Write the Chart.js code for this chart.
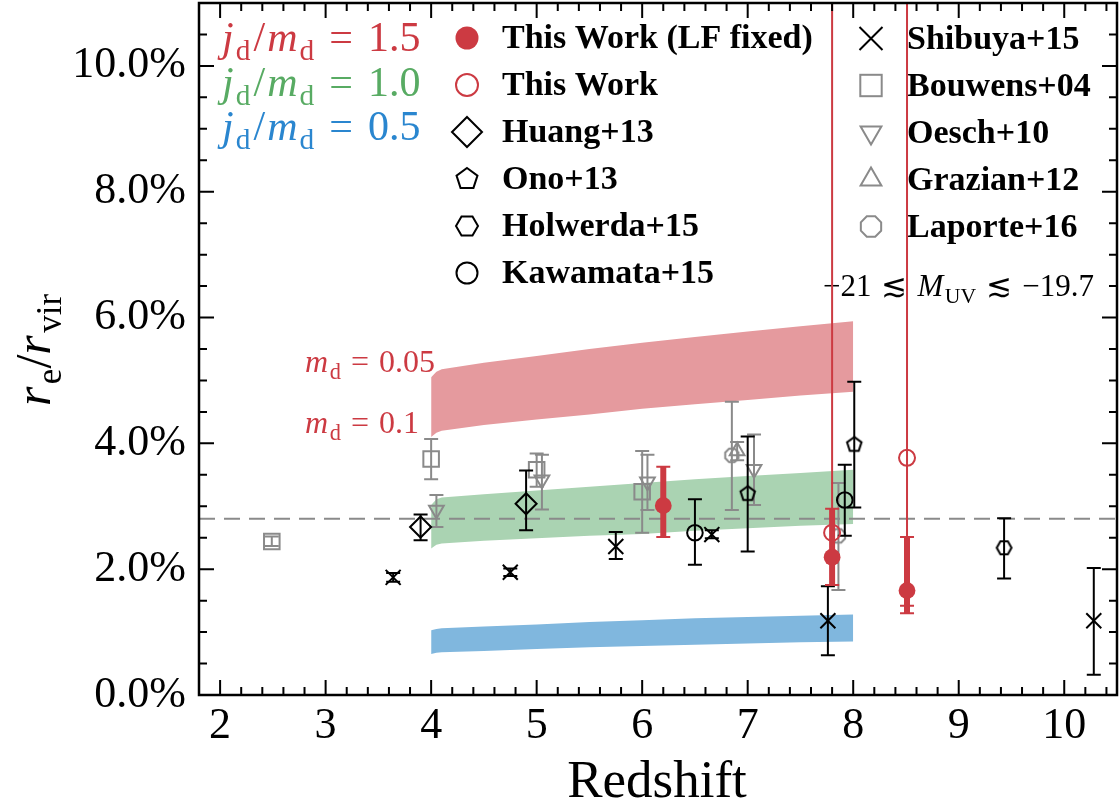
<!DOCTYPE html>
<html><head><meta charset="utf-8">
<script src="https://cdn.jsdelivr.net/npm/chart.js@4"></script>
<style>html,body{margin:0;padding:0;background:#fff;overflow:hidden}</style>
</head><body>
<canvas id="c" width="1120" height="808"></canvas>
<script>
// ---------------- DATA ----------------
const X_TICKS = [2, 3, 4, 5, 6, 7, 8, 9, 10];
const Y_TICKS = [0, 2, 4, 6, 8, 10];
const Y_TICK_LABELS = ['0.0%', '2.0%', '4.0%', '6.0%', '8.0%', '10.0%'];

// model bands (redshift, r_e/r_vir in %)
const bandZ    = [4.0, 4.05, 4.1, 4.5, 5.0, 5.5, 6.0, 6.5, 7.0, 7.5, 8.0];
const redTop   = [5.05, 5.14, 5.18, 5.28, 5.39, 5.50, 5.60, 5.69, 5.78, 5.86, 5.94];
const redBot   = [4.10, 4.17, 4.20, 4.29, 4.38, 4.46, 4.55, 4.62, 4.69, 4.76, 4.82];
const greenTop = [3.02, 3.11, 3.14, 3.19, 3.25, 3.31, 3.37, 3.43, 3.48, 3.53, 3.58];
const greenBot = [2.33, 2.39, 2.41, 2.45, 2.49, 2.53, 2.56, 2.61, 2.65, 2.69, 2.72];
const blueTop  = [1.03, 1.05, 1.06, 1.09, 1.12, 1.16, 1.19, 1.22, 1.24, 1.26, 1.28];
const blueBot  = [0.65, 0.67, 0.68, 0.70, 0.73, 0.76, 0.78, 0.80, 0.82, 0.84, 0.85];
const dashLevel = 2.8;

// observations
const lfFixedZ  = [6.2, 7.8, 8.51];
const lfFixedY  = [3.01, 2.19, 1.66];
const lfFixedLo = [2.51, 1.75, 1.30];
const lfFixedHi = [3.63, 2.96, 2.51];

const thisWorkZ  = [7.8, 8.51];
const thisWorkY  = [2.58, 3.77];
const thisWorkLo = [1.75, 1.42];
const thisWorkHi = [14, 14];

const huangZ = [3.9, 4.9];  const huangY = [2.67, 3.04];
const huangLo = [2.46, 2.62]; const huangHi = [2.87, 3.57];

const onoZ = [7.0, 8.01];   const onoY = [3.20, 3.98];
const onoLo = [2.28, 2.98]; const onoHi = [4.11, 4.98];

const holwerdaZ = [9.43];  const holwerdaY = [2.34];
const holwerdaLo = [1.85]; const holwerdaHi = [2.81];

const kawamataZ = [6.5, 7.92];  const kawamataY = [2.58, 3.10];
const kawamataLo = [2.07, 2.53]; const kawamataHi = [3.11, 3.66];

const shibuyaZ  = [3.64, 4.75, 5.75, 6.66, 7.76, 10.28];
const shibuyaY  = [1.87, 1.95, 2.36, 2.55, 1.18, 1.18];
const shibuyaLo = [1.80, 1.89, 2.16, 2.49, 0.63, 0.32];
const shibuyaHi = [1.94, 2.01, 2.59, 2.62, 1.73, 2.02];

const bouwensZ  = [2.49, 4.0, 5.0, 6.0];
const bouwensY  = [2.44, 3.75, 3.58, 3.23];
const bouwensLo = [2.37, 3.43, 3.31, 2.58];
const bouwensHi = [2.52, 4.07, 3.84, 3.88];

const oeschZ  = [4.05, 5.05, 6.05, 7.06];
const oeschY  = [2.94, 3.42, 3.39, 3.59];
const oeschLo = [2.67, 2.95, 2.94, 3.02];
const oeschHi = [3.18, 3.82, 3.82, 4.14];

const grazianZ = [6.9];  const grazianY = [3.88];
const grazianLo = [3.73]; const grazianHi = [4.02];

const laporteZ = [6.85, 7.86];  const laporteY = [3.81, 2.53];
const laporteLo = [2.94, 1.67]; const laporteHi = [4.66, 3.37];

// ---------------- STYLE ----------------
const SERIF = "'Liberation Serif', 'DejaVu Serif', serif";
const RED = '#cc3a42', GREEN = '#58ab63', BLUE = '#2a86cf', GRAY = '#8a8a8a', BLACK = '#000';
const pts = (zs, ys) => zs.map((z, i) => ({ x: z, y: ys[i] }));

function polyPath(g, n, r, rot) {
  g.beginPath();
  for (let k = 0; k < n; k++) {
    const a = rot + k * 2 * Math.PI / n;
    const px = r * Math.cos(a), py = r * Math.sin(a);
    if (k === 0) g.moveTo(px, py); else g.lineTo(px, py);
  }
  g.closePath();
}
function polyImage(n, r, rot, color, lw) {
  const s = Math.ceil(2 * (r + lw)) + 4;
  const c = document.createElement('canvas'); c.width = s; c.height = s;
  const g = c.getContext('2d'); g.translate(s / 2, s / 2);
  polyPath(g, n, r, rot); g.strokeStyle = color; g.lineWidth = lw; g.lineJoin = 'miter'; g.stroke();
  return c;
}
const PENT_ROT = -Math.PI / 2, HEX_ROT = 0, OCT_ROT = Math.PI / 8;

function markerSet(label, zs, ys, lo, hi, style, radius, color, extra) {
  return Object.assign({
    label, data: pts(zs, ys), errLo: lo, errHi: hi, errColor: color, errWidth: 2, capHalf: 7,
    pointStyle: style, pointRadius: radius, pointHoverRadius: radius,
    pointBorderColor: color, pointBackgroundColor: 'rgba(0,0,0,0)', pointBorderWidth: 2,
    pointHoverBorderWidth: 2
  }, extra || {});
}

const datasets = [
  markerSet('This Work (LF fixed)', lfFixedZ, lfFixedY, lfFixedLo, lfFixedHi, 'circle', 8.4, RED,
    { pointBackgroundColor: RED, pointBorderWidth: 0, errWidth: 6, order: 1 }),
  markerSet('This Work', thisWorkZ, thisWorkY, thisWorkLo, thisWorkHi, 'circle', 8, RED, { order: 2 }),
  markerSet('Huang+13', huangZ, huangY, huangLo, huangHi, 'rectRot', 10.5, BLACK, { order: 5 }),
  markerSet('Ono+13', onoZ, onoY, onoLo, onoHi, polyImage(5, 7.6, PENT_ROT, BLACK, 2), 8, BLACK, { order: 5 }),
  markerSet('Holwerda+15', holwerdaZ, holwerdaY, holwerdaLo, holwerdaHi, polyImage(6, 7.4, HEX_ROT, BLACK, 2), 8, BLACK, { order: 5 }),
  markerSet('Kawamata+15', kawamataZ, kawamataY, kawamataLo, kawamataHi, 'circle', 7.8, BLACK, { order: 5 }),
  markerSet('Shibuya+15', shibuyaZ, shibuyaY, shibuyaLo, shibuyaHi, 'crossRot', 10.6, BLACK, { order: 5 }),
  markerSet('Bouwens+04', bouwensZ, bouwensY, bouwensLo, bouwensHi, 'rect', 11, GRAY, { order: 8 }),
  markerSet('Oesch+10', oeschZ, oeschY, oeschLo, oeschHi, 'triangle', 8.5, GRAY, { rotation: 180, order: 8 }),
  markerSet('Grazian+12', grazianZ, grazianY, grazianLo, grazianHi, 'triangle', 8.5, GRAY, { order: 8 }),
  markerSet('Laporte+16', laporteZ, laporteY, laporteLo, laporteHi, polyImage(8, 7.2, OCT_ROT, GRAY, 2), 8, GRAY, { order: 8 }),
  { type: 'line', label: 'dash', data: [{ x: 1.8, y: dashLevel }, { x: 10.5, y: dashLevel }],
    borderColor: GRAY, borderWidth: 2, borderDash: [16, 9], pointRadius: 0, fill: false, order: 50 },
  { type: 'line', label: 'band15', data: pts(bandZ, redTop), fill: '+1', backgroundColor: '#e59a9e',
    borderColor: 'rgba(0,0,0,0)', borderWidth: 1, pointRadius: 0, order: 100 },
  { type: 'line', label: 'band15b', data: pts(bandZ, redBot), fill: false,
    borderColor: 'rgba(0,0,0,0)', borderWidth: 1, pointRadius: 0, order: 100 },
  { type: 'line', label: 'band10', data: pts(bandZ, greenTop), fill: '+1', backgroundColor: '#aad3b2',
    borderColor: 'rgba(0,0,0,0)', borderWidth: 1, pointRadius: 0, order: 100 },
  { type: 'line', label: 'band10b', data: pts(bandZ, greenBot), fill: false,
    borderColor: 'rgba(0,0,0,0)', borderWidth: 1, pointRadius: 0, order: 100 },
  { type: 'line', label: 'band05', data: pts(bandZ, blueTop), fill: '+1', backgroundColor: '#80b7de',
    borderColor: 'rgba(0,0,0,0)', borderWidth: 1, pointRadius: 0, order: 100 },
  { type: 'line', label: 'band05b', data: pts(bandZ, blueBot), fill: false,
    borderColor: 'rgba(0,0,0,0)', borderWidth: 1, pointRadius: 0, order: 100 }
];

// ---------------- HELPERS ----------------
// parts: [text, style] ; style 'i' italic, 'r' roman, 'si'/'sr' subscript ; or ['', 'g', px] gap
function drawRich(ctx, parts, x, y, size, color, align) {
  let w = 0;
  const items = [];
  parts.forEach(p => {
    const [t, s, gap] = p;
    if (s === 'g') { w += gap; return; }
    const sub = s[0] === 's';
    const fs = sub ? size * 0.7 : size;
    const ital = s[s.length - 1] === 'i';
    const font = (ital ? 'italic ' : '') + fs + 'px ' + SERIF;
    ctx.font = font;
    const tw = ctx.measureText(t).width;
    items.push({ t, font, dx: w, dy: sub ? size * 0.22 : 0 });
    w += tw + (ital ? size * 0.05 : 0);
  });
  const x0 = align === 'center' ? x - w / 2 : align === 'right' ? x - w : x;
  ctx.fillStyle = color; ctx.textBaseline = 'alphabetic'; ctx.textAlign = 'left';
  items.forEach(it => { ctx.font = it.font; ctx.fillText(it.t, x0 + it.dx, y + it.dy); });
  return w;
}

function legendMarker(g, kind, x, y, r, color) {
  g.save(); g.translate(x, y); g.strokeStyle = color; g.fillStyle = color; g.lineWidth = 2;
  if (kind === 'fcircle') { g.beginPath(); g.arc(0, 0, r, 0, 2 * Math.PI); g.fill(); }
  else if (kind === 'circle') { g.beginPath(); g.arc(0, 0, r, 0, 2 * Math.PI); g.stroke(); }
  else if (kind === 'diamond') { g.beginPath(); g.moveTo(0, -r); g.lineTo(r, 0); g.lineTo(0, r); g.lineTo(-r, 0); g.closePath(); g.stroke(); }
  else if (kind === 'square') { g.strokeRect(-r, -r, 2 * r, 2 * r); }
  else if (kind === 'x') { g.beginPath(); g.moveTo(-r, -r); g.lineTo(r, r); g.moveTo(r, -r); g.lineTo(-r, r); g.stroke(); }
  else if (kind === 'tdown') { polyPath(g, 3, r, Math.PI / 2); g.stroke(); }
  else if (kind === 'tup') { polyPath(g, 3, r, -Math.PI / 2); g.stroke(); }
  else if (kind === 'pent') { polyPath(g, 5, r, PENT_ROT); g.stroke(); }
  else if (kind === 'hex') { polyPath(g, 6, r, HEX_ROT); g.stroke(); }
  else if (kind === 'oct') { polyPath(g, 8, r, OCT_ROT); g.stroke(); }
  g.restore();
}

const LEGEND1 = [['fcircle', 11.5, RED], ['circle', 11, RED], ['diamond', 15, BLACK], ['pent', 11, BLACK], ['hex', 11, BLACK], ['circle', 10.5, BLACK]];
const LEGEND2 = [['x', 11.5, BLACK], ['square', 10.7, GRAY], ['tdown', 12, GRAY], ['tup', 12, GRAY], ['oct', 11, GRAY]];

// ---------------- PLUGINS ----------------
const errorBars = {
  id: 'errorBars',
  beforeDatasetDraw(chart, args) {
    const ds = chart.data.datasets[args.index];
    if (!ds.errLo) return;
    const { ctx, chartArea: a, scales: { x, y } } = chart;
    ctx.save();
    ctx.beginPath(); ctx.rect(a.left, a.top, a.right - a.left, a.bottom - a.top); ctx.clip();
    ctx.strokeStyle = ds.errColor; ctx.lineCap = 'butt';
    ds.data.forEach((p, i) => {
      const px = x.getPixelForValue(p.x);
      const lo = y.getPixelForValue(ds.errLo[i]), hi = y.getPixelForValue(ds.errHi[i]);
      ctx.lineWidth = ds.errWidth;
      ctx.beginPath(); ctx.moveTo(px, lo); ctx.lineTo(px, hi); ctx.stroke();
      ctx.lineWidth = 2;
      ctx.beginPath();
      ctx.moveTo(px - ds.capHalf, lo); ctx.lineTo(px + ds.capHalf, lo);
      ctx.moveTo(px - ds.capHalf, hi); ctx.lineTo(px + ds.capHalf, hi);
      ctx.stroke();
    });
    ctx.restore();
  }
};

const JM = (v) => [['j', 'i'], ['d', 'sr'], ['', 'g', 3], ['/', 'r'], ['', 'g', 2], ['m', 'i'], ['d', 'sr'], ['', 'g', 15], ['=', 'r'], ['', 'g', 15], [v, 'r']];

const decor = {
  id: 'decor',
  beforeDatasetsDraw(chart) {
    const ctx = chart.ctx;
    ctx.save();
    // model labels
    drawRich(ctx, JM('1.5'), 222, 51, 42, RED, 'left');
    drawRich(ctx, JM('1.0'), 222, 96, 42, GREEN, 'left');
    drawRich(ctx, JM('0.5'), 222, 140, 42, BLUE, 'left');
    drawRich(ctx, [['m', 'i'], ['d', 'sr'], ['', 'g', 10], ['=', 'r'], ['', 'g', 10], ['0.05', 'r']], 305, 372, 32, RED, 'left');
    drawRich(ctx, [['m', 'i'], ['d', 'sr'], ['', 'g', 10], ['=', 'r'], ['', 'g', 10], ['0.1', 'r']], 305, 433, 32, RED, 'left');
    drawRich(ctx, [['\u221221', 'r'], ['', 'g', 10], ['\u2272', 'r'], ['', 'g', 10], ['M', 'i'], ['UV', 'sr'], ['', 'g', 10], ['\u2272', 'r'], ['', 'g', 10], ['\u221219.7', 'r']], 823, 296, 31, BLACK, 'left');
    // legend
    const ds = chart.data.datasets;
    LEGEND1.forEach((m, i) => {
      const yy = 38 + i * 47;
      legendMarker(ctx, m[0], 467, yy, m[1], m[2]);
      ctx.font = 'bold 34px ' + SERIF; ctx.fillStyle = BLACK; ctx.textAlign = 'left'; ctx.textBaseline = 'alphabetic';
      ctx.fillText(ds[i].label, 502, yy + 10);
    });
    LEGEND2.forEach((m, i) => {
      const yy = 38.5 + i * 47;
      legendMarker(ctx, m[0], 871, yy, m[1], m[2]);
      ctx.font = 'bold 34px ' + SERIF; ctx.fillStyle = BLACK; ctx.textAlign = 'left'; ctx.textBaseline = 'alphabetic';
      ctx.fillText(ds[6 + i].label, 907, yy + 10);
    });
    ctx.restore();
  },
  afterDraw(chart) {
    const { ctx, chartArea: a, scales: { x, y } } = chart;
    ctx.save();
    ctx.strokeStyle = BLACK;
    // ticks (inward, all sides)
    ctx.lineWidth = 2;
    ctx.beginPath();
    for (let k = 9; k <= 52; k++) {
      const px = x.getPixelForValue(k / 5);
      if (px < a.left + 2 || px > a.right - 2) continue;
      const L = (k % 5 === 0) ? 15 : 8;
      ctx.moveTo(px, a.bottom); ctx.lineTo(px, a.bottom - L);
      ctx.moveTo(px, a.top); ctx.lineTo(px, a.top + L);
    }
    for (let k = 1; k <= 21; k++) {
      const py = y.getPixelForValue(k * 0.5);
      if (py < a.top + 2 || py > a.bottom - 2) continue;
      const L = (k % 4 === 0) ? 15 : 8;
      ctx.moveTo(a.left, py); ctx.lineTo(a.left + L, py);
      ctx.moveTo(a.right, py); ctx.lineTo(a.right - L, py);
    }
    ctx.stroke();
    // frame
    ctx.lineWidth = 2.5;
    ctx.strokeRect(a.left, a.top, a.right - a.left, a.bottom - a.top);
    // axis titles
    ctx.font = '53px ' + SERIF; ctx.fillStyle = BLACK; ctx.textAlign = 'center'; ctx.textBaseline = 'alphabetic';
    ctx.fillText('Redshift', 657, 797);
    ctx.translate(50, 350); ctx.rotate(-Math.PI / 2);
    drawRich(ctx, [['r', 'i'], ['e', 'sr'], ['/', 'r'], ['r', 'i'], ['vir', 'sr']], 0, 0, 50, BLACK, 'center');
    ctx.restore();
  }
};

// ---------------- CHART ----------------
new Chart(document.getElementById('c'), {
  type: 'scatter',
  data: { datasets },
  options: {
    responsive: false, animation: false, devicePixelRatio: 1,
    layout: { autoPadding: false, padding: { top: 3, right: 3, left: 0, bottom: 0 } },
    plugins: { legend: { display: false }, tooltip: { enabled: false } },
    scales: {
      x: {
        type: 'linear', min: 1.8, max: 10.5,
        grid: { display: false, drawTicks: false }, border: { display: false },
        afterBuildTicks: s => { s.ticks = X_TICKS.map(v => ({ value: v })); },
        afterFit: s => { s.height = 113; s.paddingLeft = 0; s.paddingRight = 0; },
        ticks: { font: { family: SERIF, size: 44 }, color: BLACK, padding: 5, maxRotation: 0, autoSkip: false,
          callback: v => String(v) }
      },
      y: {
        type: 'linear', min: 0, max: 11,
        grid: { display: false, drawTicks: false }, border: { display: false },
        afterBuildTicks: s => { s.ticks = Y_TICKS.map(v => ({ value: v })); },
        afterFit: s => { s.width = 199; s.paddingTop = 0; s.paddingBottom = 0; },
        ticks: { font: { family: SERIF, size: 44 }, color: BLACK, padding: 13, autoSkip: false,
          callback: (v, i) => Y_TICK_LABELS[i] }
      }
    }
  },
  plugins: [errorBars, decor]
});
</script>
</body></html>
